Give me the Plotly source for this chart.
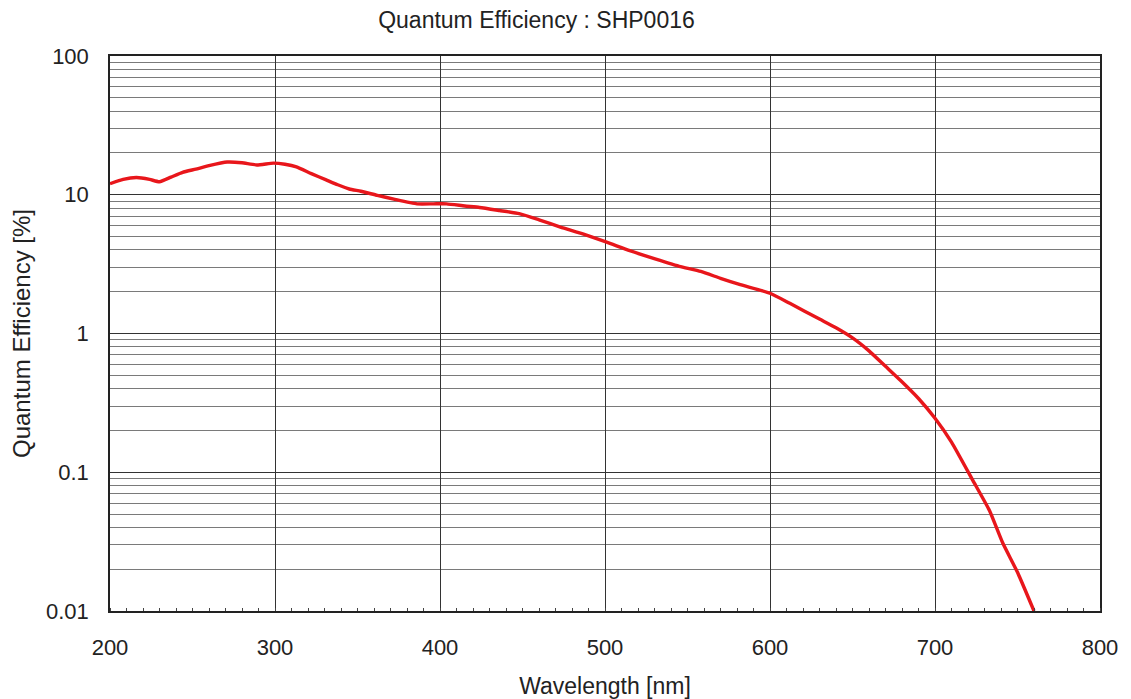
import plotly.graph_objects as go

wavelength = [200, 208, 216, 224, 230, 237, 244, 252, 260, 271, 280, 289, 299, 306, 313,
              322, 331, 338, 345, 352, 362, 372, 386, 396, 404, 415, 424, 436, 448, 460,
              473, 487, 501, 515, 527, 545, 558, 570, 582, 600, 612, 630, 640, 650, 660,
              670, 679, 690, 700, 710, 723, 733, 741, 750, 760]
qe = [12.0, 12.9, 13.3, 12.9, 12.4, 13.4, 14.5, 15.3, 16.2, 17.2, 17.0, 16.4, 16.9, 16.6, 15.9,
      14.2, 12.8, 11.8, 11.0, 10.6, 9.9, 9.3, 8.6, 8.6, 8.6, 8.3, 8.1, 7.7, 7.3, 6.6,
      5.85, 5.2, 4.55, 3.95, 3.55, 3.05, 2.8, 2.5, 2.25, 1.95, 1.65, 1.27, 1.1, 0.93, 0.75,
      0.58, 0.46, 0.34, 0.245, 0.165, 0.087, 0.053, 0.031, 0.019, 0.010]

y_ticks = [0.01, 0.1, 1, 10, 100]
y_ticktext = ["0.01", "0.1", "1", "10", "100"]
x_ticks = [200, 300, 400, 500, 600, 700, 800]

minor_y = [m * 10 ** e for e in range(-2, 2) for m in range(2, 10)]

fig = go.Figure()
fig.add_trace(go.Scatter(x=wavelength, y=qe, mode="lines",
                         line=dict(color="#e8161b", width=3.4, shape="spline", smoothing=0.5),
                         showlegend=False))

font = "Liberation Sans, Arial, sans-serif"
fig.update_layout(
    width=1123, height=691,
    margin=dict(l=102, r=31, t=48, b=88),
    paper_bgcolor="white", plot_bgcolor="white",
    title=dict(text="Quantum Efficiency : SHP0016", x=0.4706, xanchor="center",
               y=0.9826, yanchor="middle", font=dict(family=font, size=23, color="#222")),
    font=dict(family=font, color="#222"),
)
fig.update_xaxes(
    range=[200, 800], tickvals=x_ticks, ticks="outside", ticklen=16,
    tickcolor="rgba(0,0,0,0)", automargin=False,
    showgrid=True, gridcolor="#333", gridwidth=1,
    showline=True, mirror=True, linecolor="#222", linewidth=1.5,
    tickfont=dict(size=22, family=font, color="#222"),
    title=dict(text="Wavelength [nm]", font=dict(size=23, family=font, color="#222"), standoff=19),
    minor=dict(dtick=10, ticks="inside", ticklen=3, tickcolor="#444", showgrid=False),
    zeroline=False,
)
fig.update_yaxes(
    type="log", range=[-2, 2], tickvals=y_ticks, ticktext=y_ticktext,
    ticks="outside", ticklen=15, tickcolor="rgba(0,0,0,0)", automargin=False,
    showgrid=True, gridcolor="#333", gridwidth=1,
    showline=True, mirror=True, linecolor="#222", linewidth=1.5,
    tickfont=dict(size=22, family=font, color="#222"),
    title=dict(text="Quantum Efficiency [%]", font=dict(size=24, family=font, color="#222"), standoff=18),
    minor=dict(tickmode="array", tickvals=minor_y, showgrid=True, gridcolor="#7a7a7a",
               gridwidth=1, ticks=""),
    zeroline=False,
)

fig.write_html("out.html")
